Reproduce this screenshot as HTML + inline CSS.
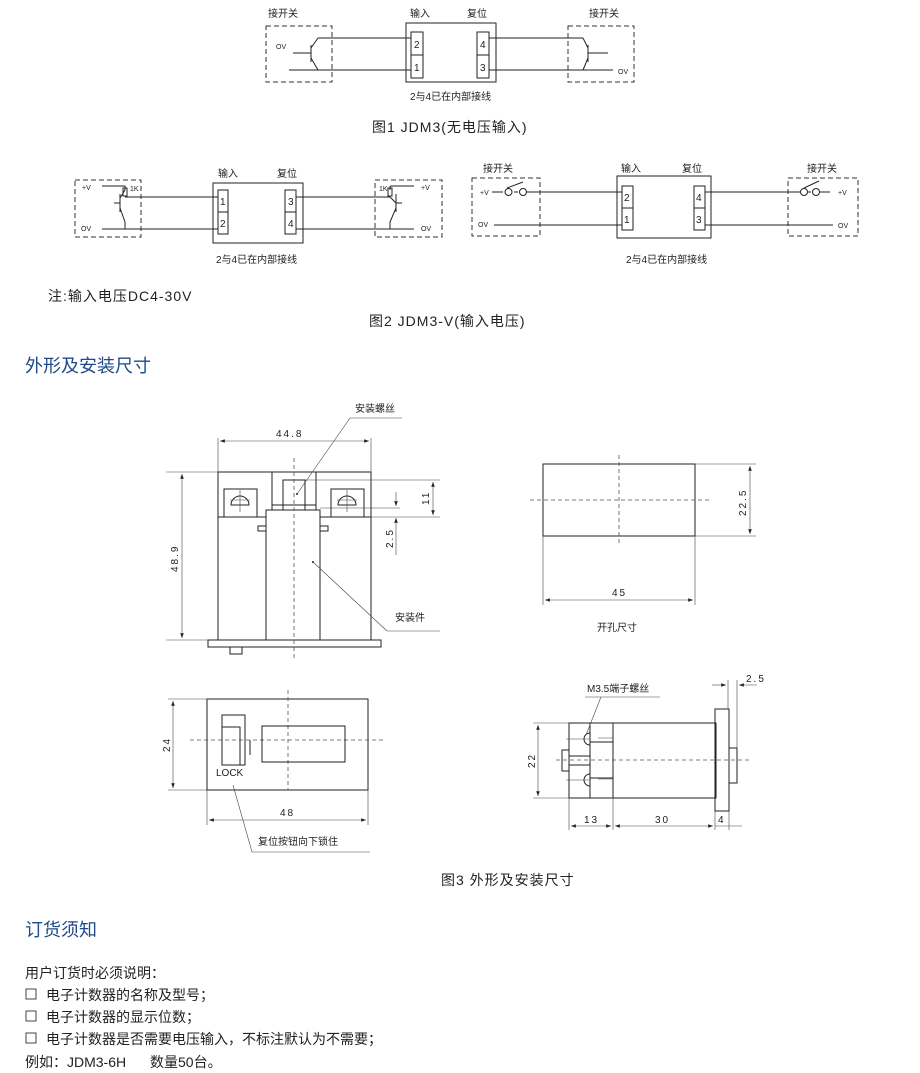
<!DOCTYPE html>
<html><head><meta charset="utf-8"><style>
body{margin:0;background:#fff}
svg{display:block}
text{font-family:"Liberation Sans","Noto Sans CJK SC",sans-serif;fill:#222}
.s{font-size:10px}.m{font-size:14px}.cap{font-size:14px;letter-spacing:1px}.h{font-size:18px;fill:#1e4a8c}
.dm{font-size:10px;letter-spacing:2px}
.l{stroke:#222;stroke-width:1;fill:none}
.d{stroke:#333;stroke-width:1;fill:none;stroke-dasharray:5,3}
.c{stroke:#555;stroke-width:.8;fill:none;stroke-dasharray:4,3}
.t{stroke:#444;stroke-width:.6;fill:none}
</style></head><body>
<svg width="920" height="1073" viewBox="0 0 920 1073">
<defs><marker id="a" markerWidth="8" markerHeight="6" refX="8" refY="3" orient="auto-start-reverse"><path d="M0,0 L8,3 L0,6z" fill="#222"/></marker></defs>

<!-- FIG 1 -->
<text class="s" x="268" y="17">接开关</text><text class="s" x="410" y="17">输入</text><text class="s" x="467" y="17">复位</text><text class="s" x="589" y="17">接开关</text>
<rect class="d" x="266" y="26" width="66" height="56"/><rect class="d" x="568" y="26" width="66" height="56"/>
<rect class="l" x="406" y="23" width="90" height="59"/>
<rect class="l" x="411" y="32" width="12" height="23"/><rect class="l" x="411" y="55" width="12" height="23"/>
<rect class="l" x="477" y="32" width="12" height="23"/><rect class="l" x="477" y="55" width="12" height="23"/>
<text class="s" x="414" y="48">2</text><text class="s" x="414" y="71">1</text><text class="s" x="480" y="48">4</text><text class="s" x="480" y="71">3</text>
<path class="l" d="M318,38 H411 M289,70 H411 M293,53 H311 M311,45 V62 M311,48 L318,38 M311,58 L318,70"/>
<path class="l" d="M489,38 H583 M489,70 H613 M588,53 H608 M588,45 V62 M588,48 L583,38 M588,58 L583,70"/>
<text style="font-size:7px" x="276" y="49">OV</text><text style="font-size:7px" x="618" y="74">OV</text>
<text class="s" x="410" y="100">2与4已在内部接线</text>
<text class="cap" x="372" y="132">图1 JDM3(无电压输入)</text>

<!-- FIG 2 left -->
<text class="s" x="218" y="177">输入</text><text class="s" x="277" y="177">复位</text>
<rect class="d" x="75" y="180" width="66" height="57"/><rect class="d" x="375" y="180" width="67" height="57"/>
<rect class="l" x="213" y="183" width="90" height="60"/>
<rect class="l" x="218" y="190" width="10" height="22"/><rect class="l" x="218" y="212" width="10" height="22"/>
<rect class="l" x="285" y="190" width="11" height="22"/><rect class="l" x="285" y="212" width="11" height="22"/>
<text class="s" x="220" y="205">1</text><text class="s" x="220" y="227">2</text><text class="s" x="288" y="205">3</text><text class="s" x="288" y="227">4</text>
<path class="l" d="M102,186 H125 V190 M125,197 H218 M102,229 H218 M114,203 H120 M120,194 V212 M120,198 L125,190 M120,208 L125,222 V229"/>
<rect class="l" x="123" y="188" width="4" height="8"/>
<path class="l" d="M296,197 H390 M296,229 H414 M390,186 H414 M390,186 V190 M390,197 L396,203 M396,194 V212 M396,203 H402 M396,208 L390,222 V229"/>
<rect class="l" x="388" y="188" width="4" height="8"/>
<text style="font-size:7px" x="82" y="190">+V</text><text style="font-size:7px" x="130" y="191">1K</text><text style="font-size:7px" x="81" y="231">OV</text>
<text style="font-size:7px" x="379" y="191">1K</text><text style="font-size:7px" x="421" y="190">+V</text><text style="font-size:7px" x="421" y="231">OV</text>
<text class="s" x="216" y="263">2与4已在内部接线</text>

<!-- FIG 2 right -->
<text class="s" x="483" y="172">接开关</text><text class="s" x="621" y="172">输入</text><text class="s" x="682" y="172">复位</text><text class="s" x="807" y="172">接开关</text>
<rect class="d" x="472" y="178" width="68" height="58"/><rect class="d" x="788" y="178" width="70" height="58"/>
<rect class="l" x="617" y="176" width="94" height="62"/>
<rect class="l" x="622" y="186" width="11" height="22"/><rect class="l" x="622" y="208" width="11" height="22"/>
<rect class="l" x="694" y="186" width="11" height="22"/><rect class="l" x="694" y="208" width="11" height="22"/>
<text class="s" x="624" y="201">2</text><text class="s" x="624" y="223">1</text><text class="s" x="696" y="201">4</text><text class="s" x="696" y="223">3</text>
<path class="l" d="M492,192 H503 M514,192 H518 M527,192 H622 M494,225 H622 M507,188 L523,182"/>
<circle class="l" cx="508.5" cy="192" r="3.5"/><circle class="l" cx="523" cy="192" r="3.5"/>
<path class="l" d="M705,192 H800 M808,192 H811 M820,192 H830 M705,225 H833 M804,188 L819,181"/>
<circle class="l" cx="804" cy="192" r="3.5"/><circle class="l" cx="816" cy="192" r="3.5"/>
<text style="font-size:7px" x="480" y="195">+V</text><text style="font-size:7px" x="478" y="227">OV</text>
<text style="font-size:7px" x="838" y="195">+V</text><text style="font-size:7px" x="838" y="228">OV</text>
<text class="s" x="626" y="263">2与4已在内部接线</text>

<text class="cap" x="48" y="301">注:输入电压DC4-30V</text>
<text class="cap" x="369" y="326">图2 JDM3-V(输入电压)</text>

<text class="h" x="25" y="372">外形及安装尺寸</text>

<!-- Front view -->
<rect class="l" x="218" y="472" width="153" height="168"/>
<path class="l" d="M218,517 H266 M320,517 H371"/>
<rect class="l" x="208" y="640" width="173" height="7"/>
<rect class="l" x="230" y="647" width="12" height="7"/>
<rect class="l" x="266" y="510" width="54" height="130"/>
<path class="l" d="M272,472 V510 M316,472 V510 M272,505 H316"/>
<rect class="l" x="283" y="480" width="22" height="30"/>
<rect class="l" x="224" y="489" width="33" height="28"/><rect class="l" x="331" y="489" width="33" height="28"/>
<path class="l" d="M231,505 a9,9 0 0 1 18,0 z M338,505 a9,9 0 0 1 18,0 z"/>
<path class="t" d="M240,490 V512 M230,500 H250 M347,490 V512 M337,500 H357"/>
<rect class="l" x="258" y="526" width="8" height="5"/><rect class="l" x="320" y="526" width="8" height="5"/>
<path class="c" d="M294,458 V660"/>
<path class="t" d="M218,438 V472 M371,438 V472 M166,472 H218 M166,640 H208 M305,480 H440 M371,517 H440 M320,508 H400"/>
<path class="t" d="M220,441 H369" marker-start="url(#a)" marker-end="url(#a)"/>
<text class="dm" x="276" y="437">44.8</text>
<path class="t" d="M182,474 V638" marker-start="url(#a)" marker-end="url(#a)"/>
<text class="dm" transform="translate(178,572) rotate(-90)">48.9</text>
<path class="t" d="M433,482 V515" marker-start="url(#a)" marker-end="url(#a)"/>
<text class="dm" transform="translate(429,505) rotate(-90)">11</text>
<path class="t" d="M396,492 V506" marker-end="url(#a)"/><path class="t" d="M396,555 V518" marker-end="url(#a)"/>
<text class="dm" transform="translate(393,548) rotate(-90)">2.5</text>
<text class="s" x="355" y="412">安装螺丝</text>
<path class="t" d="M350,418 H402 M350,418 L297,494"/><circle cx="297" cy="494" r="1" fill="#222"/>
<text class="s" x="395" y="621">安装件</text>
<path class="t" d="M387,631 H440 M387,631 L313,562"/><circle cx="313" cy="562" r="1" fill="#222"/>

<!-- Cutout -->
<rect class="l" x="543" y="464" width="152" height="72"/>
<path class="c" d="M619,455 V545 M530,500 H710"/>
<path class="t" d="M695,464 H756 M695,536 H756 M543,536 V605 M695,536 V605"/>
<path class="t" d="M750,466 V534" marker-start="url(#a)" marker-end="url(#a)"/>
<text class="dm" transform="translate(746,516) rotate(-90)">22.5</text>
<path class="t" d="M545,600 H693" marker-start="url(#a)" marker-end="url(#a)"/>
<text class="dm" x="612" y="596">45</text>
<text class="s" x="597" y="631">开孔尺寸</text>

<!-- Lock view -->
<rect class="l" x="207" y="699" width="161" height="91"/>
<path class="c" d="M288,690 V790 M190,740 H385"/>
<rect class="l" x="222" y="715" width="23" height="50"/><rect class="l" x="222" y="727" width="18" height="38"/>
<path class="l" d="M250,740 V755"/>
<rect class="l" x="262" y="726" width="83" height="36"/>
<text class="s" x="216" y="776">LOCK</text>
<path class="t" d="M168,699 H207 M168,790 H207 M207,790 V825 M368,790 V825"/>
<path class="t" d="M173,701 V788" marker-start="url(#a)" marker-end="url(#a)"/>
<text class="dm" transform="translate(170,752) rotate(-90)">24</text>
<path class="t" d="M209,820 H366" marker-start="url(#a)" marker-end="url(#a)"/>
<text class="dm" x="280" y="816">48</text>
<path class="t" d="M233,785 L252,852 H370"/>
<text class="s" x="258" y="845">复位按钮向下锁住</text>

<!-- Side view -->
<rect class="l" x="569" y="723" width="147" height="75"/>
<path class="l" d="M590,723 V798 M613,723 V798"/>
<rect class="l" x="715" y="709" width="14" height="102"/>
<rect class="l" x="729" y="748" width="8" height="35"/>
<rect class="l" x="562" y="750" width="7" height="21"/>
<path class="l" d="M569,756 H590 M569,765 H590 M590,742 H613 M590,778 H613"/>
<path class="l" d="M590,733 a6,6 0 0 0 0,12 z M590,774 a6,6 0 0 0 0,12 z"/>
<path class="t" d="M566,739 H590 M598,738 H613 M566,780 H590 M598,779 H613"/>
<path class="c" d="M556,760 H750"/>
<path class="t" d="M533,723 H569 M533,798 H569 M569,798 V830 M613,798 V830 M715,811 V830 M729,811 V830 M728,680 V709 M737,680 V748"/>
<path class="t" d="M538,725 V796" marker-start="url(#a)" marker-end="url(#a)"/>
<text class="dm" transform="translate(535,768) rotate(-90)">22</text>
<path class="t" d="M571,826 H611" marker-start="url(#a)" marker-end="url(#a)"/>
<path class="t" d="M615,826 H713" marker-start="url(#a)" marker-end="url(#a)"/>
<path class="t" d="M715,826 H742 M729,826 H740"/>
<text class="dm" x="584" y="823">13</text><text class="dm" x="655" y="823">30</text><text class="dm" x="718" y="823">4</text>
<path class="t" d="M712,685 H726" marker-end="url(#a)"/><path class="t" d="M757,685 H739" marker-end="url(#a)"/>
<text class="dm" x="746" y="682">2.5</text>
<text class="s" x="587" y="692">M3.5端子螺丝</text>
<path class="t" d="M585,697 H660 M601,697 L586,735"/>

<text class="cap" x="441" y="885">图3 外形及安装尺寸</text>

<text class="h" x="25" y="936">订货须知</text>
<text class="m" x="25" y="978">用户订货时必须说明：</text>
<rect x="26" y="989" width="10" height="10" fill="none" stroke="#444"/>
<text class="m" x="46" y="1000">电子计数器的名称及型号；</text>
<rect x="26" y="1011" width="10" height="10" fill="none" stroke="#444"/>
<text class="m" x="46" y="1022">电子计数器的显示位数；</text>
<rect x="26" y="1033" width="10" height="10" fill="none" stroke="#444"/>
<text class="m" x="46" y="1044">电子计数器是否需要电压输入，不标注默认为不需要；</text>
<text class="m" x="25" y="1067">例如：JDM3-6H</text><text class="m" x="150" y="1067">数量50台。</text>
</svg>
</body></html>
